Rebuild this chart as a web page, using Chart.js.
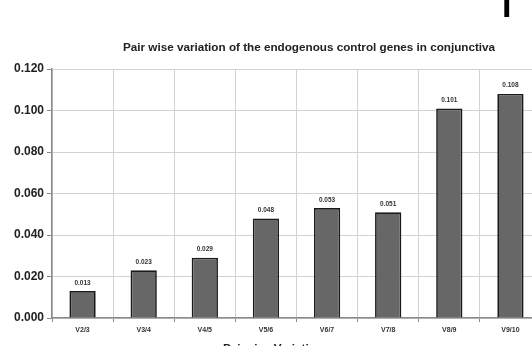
<!DOCTYPE html>
<html>
<head>
<meta charset="utf-8">
<script src="https://cdn.jsdelivr.net/npm/chart.js@4/dist/chart.umd.min.js"></script>
<style>
  html, body { margin: 0; padding: 0; background: #fff; }
  #wrap { position: relative; width: 532px; height: 346px; overflow: hidden; background: #fff; }
  #box { position: absolute; left: 0; top: 0; width: 545px; height: 346px; }
  .t { position: absolute; font-family: "Liberation Sans", Arial, sans-serif; font-weight: bold; color: #222; white-space: nowrap; line-height: 1; }
</style>
</head>
<body>
<div id="wrap">
  <div id="box"><canvas id="c" width="545" height="346"></canvas></div>
  <div class="t" id="title" style="left:123px; top:41px; font-size:11.7px;">Pair wise variation of the endogenous control genes in conjunctiva</div>
  <div class="t" id="xtitle" style="left:223px; top:342px; font-size:11.7px;">Pairwise Variations</div>
  <div class="t" id="panel" style="left:502px; top:-12px; font-size:34px; color:#000;">I</div>
</div>
<script>
const categories = ["V2/3", "V3/4", "V4/5", "V5/6", "V6/7", "V7/8", "V8/9", "V9/10"];
const values = [0.013, 0.023, 0.029, 0.048, 0.053, 0.051, 0.101, 0.108];
const yTicks = [0.000, 0.020, 0.040, 0.060, 0.080, 0.100, 0.120];

const valueLabels = {
  id: 'valueLabels',
  afterDatasetsDraw(chart) {
    const ctx = chart.ctx;
    const meta = chart.getDatasetMeta(0);
    ctx.save();
    ctx.font = 'bold 6.5px "Liberation Sans", Arial, sans-serif';
    ctx.fillStyle = '#333';
    ctx.textAlign = 'center';
    ctx.textBaseline = 'bottom';
    meta.data.forEach((el, i) => {
      ctx.fillText(values[i].toFixed(3), el.x, el.y - 5);
    });
    ctx.restore();
  }
};

new Chart(document.getElementById('c'), {
  type: 'bar',
  data: {
    labels: categories,
    datasets: [{
      data: values,
      backgroundColor: '#676767',
      borderColor: '#1a1a1a',
      borderWidth: 1.7,
      barPercentage: 0.43,
      categoryPercentage: 1.0
    }]
  },
  options: {
    responsive: false,
    animation: false,
    devicePixelRatio: 1,
    layout: { padding: { top: 69, right: 4, left: 0, bottom: 0 } },
    plugins: {
      legend: { display: false },
      title: { display: false },
      tooltip: { enabled: false }
    },
    scales: {
      x: {
        grid: {
          offset: true,
          color: '#d2d2d2',
          lineWidth: 1,
          tickLength: 4,
          tickColor: '#888',
          drawOnChartArea: true
        },
        border: { color: '#8a8a8a', width: 1.5 },
        ticks: {
          font: { family: '"Liberation Sans", Arial, sans-serif', size: 7, weight: 'bold' },
          color: '#333',
          padding: 4
        },
        afterFit(s) { s.height = 28; }
      },
      y: {
        min: 0,
        max: 0.12,
        afterBuildTicks(s) { s.ticks = yTicks.map(v => ({ value: v })); },
        grid: {
          color: '#d2d2d2',
          lineWidth: 1,
          tickLength: 5,
          tickColor: '#888'
        },
        border: { color: '#8a8a8a', width: 1.5 },
        ticks: {
          font: { family: '"Liberation Sans", Arial, sans-serif', size: 12, weight: 'bold' },
          color: '#222',
          padding: 3,
          callback: (v) => Number(v).toFixed(3)
        },
        afterFit(s) { s.width = 52; }
      }
    }
  },
  plugins: [valueLabels]
});
</script>
</body>
</html>
